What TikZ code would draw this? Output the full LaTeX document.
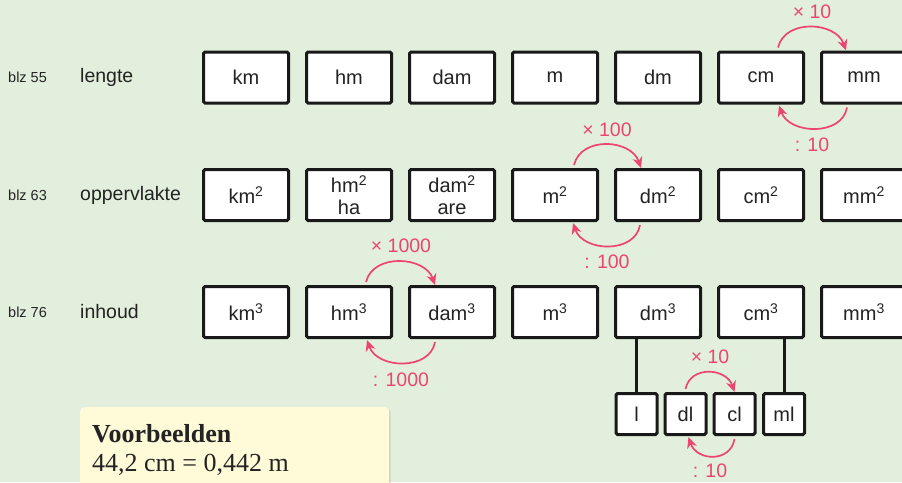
\documentclass[tikz,border=0pt]{standalone}
\usepackage{fontspec}
\setmainfont{Liberation Serif}
\newfontfamily\hv{Liberation Sans}
\usetikzlibrary{arrows.meta,calc,shadows}
\definecolor{bggreen}{RGB}{226,239,220}
\definecolor{pinkarr}{RGB}{236,70,112}
\definecolor{txtgrey}{RGB}{35,35,35}
\definecolor{noteyellow}{RGB}{255,251,216}
\tikzset{
  unitbox/.style={draw=black!90, line width=3pt, fill=white, rounded corners=1.5pt,
    minimum width=85pt, minimum height=51pt, inner sep=0pt, font=\hv\fontsize{20}{23}\selectfont,
    text=txtgrey, align=center},
  smallbox/.style={unitbox, minimum width=41pt, minimum height=41pt},
  rowlabel/.style={anchor=west, font=\hv\fontsize{19.5}{20}\selectfont, text=txtgrey, inner sep=0pt},
  pagelabel/.style={anchor=west, font=\hv\fontsize{14.5}{15}\selectfont, text=txtgrey, inner sep=0pt},
  convarrow/.style={draw=pinkarr, line width=1.7pt, -{Stealth[length=11pt,width=10pt]}},
  convlabel/.style={font=\hv\fontsize{19.5}{20}\selectfont, text=pinkarr, inner sep=0pt},
  stem/.style={draw=black!90, line width=3pt}
}
\newcommand{\sq}{\textsuperscript{2}}
\newcommand{\cu}{\textsuperscript{3}}
\begin{document}
\begin{tikzpicture}[x=1pt,y=-1pt]
\fill[bggreen] (0,0) rectangle (902,482);
\useasboundingbox (0,0) rectangle (902,482);

% row labels
\node[pagelabel] (p1) at (8,77.5) {blz 55};
\node[pagelabel] (p2) at (8,195) {blz 63};
\node[pagelabel] (p3) at (8,312) {blz 76};
\node[rowlabel] (r1) at (80,77.5) {lengte};
\node[rowlabel] (r2) at (80,195) {oppervlakte};
\node[rowlabel] (r3) at (80,312) {inhoud};

% row 1
\node[unitbox] (km)  at (246,77.5) {km};
\node[unitbox] (hm)  at (349,77.5) {hm};
\node[unitbox] (dam) at (452,77.5) {dam};
\node[unitbox] (m)   at (555,77.5) {m};
\node[unitbox] (dm)  at (658,77.5) {dm};
\node[unitbox] (cm)  at (761,77.5) {cm};
\node[unitbox] (mm)  at (864,77.5) {mm};

% row 2
\node[unitbox] (km2)  at (246,195) {km\sq};
\node[unitbox] (hm2)  at (349,195) {hm\sq\\[-1pt]ha};
\node[unitbox] (dam2) at (452,195) {dam\sq\\[-1pt]are};
\node[unitbox] (m2)   at (555,195) {m\sq};
\node[unitbox] (dm2)  at (658,195) {dm\sq};
\node[unitbox] (cm2)  at (761,195) {cm\sq};
\node[unitbox] (mm2)  at (864,195) {mm\sq};

% row 3
\node[unitbox] (km3)  at (246,312) {km\cu};
\node[unitbox] (hm3)  at (349,312) {hm\cu};
\node[unitbox] (dam3) at (452,312) {dam\cu};
\node[unitbox] (m3)   at (555,312) {m\cu};
\node[unitbox] (dm3)  at (658,312) {dm\cu};
\node[unitbox] (cm3)  at (761,312) {cm\cu};
\node[unitbox] (mm3)  at (864,312) {mm\cu};

% litres
\node[smallbox] (l)  at (636.5,414) {l};
\node[smallbox] (dl) at (685.5,414) {dl};
\node[smallbox] (cl) at (734.5,414) {cl};
\node[smallbox] (ml) at (784,414) {ml};
\draw[stem] (l.north) -- (l.north |- dm3.south);
\draw[stem] (ml.north) -- (ml.north |- cm3.south);

% cm <-> mm
\draw[convarrow] ([xshift=-27pt,yshift=3pt]cm.north east) .. controls +(7,-29) and +(-10,-29) .. ([xshift=26pt,yshift=0pt]mm.north west);
\draw[convarrow] ([xshift=27pt,yshift=-3pt]mm.south west) .. controls +(-5,29) and +(10,29) .. ([xshift=-26pt,yshift=-1pt]cm.south east);
\node[convlabel] (x10a) at (812,12) {\texttimes\ 10};
\node[convlabel] (d10a) at (812,145) {: 10};

% m2 <-> dm2
\draw[convarrow] ([xshift=-25pt,yshift=3pt]m2.north east) .. controls +(7,-29) and +(-10,-29) .. ([xshift=27pt,yshift=0pt]dm2.north west);
\draw[convarrow] ([xshift=26pt,yshift=-3pt]dm2.south west) .. controls +(-5,29) and +(10,29) .. ([xshift=-26pt,yshift=-1pt]m2.south east);
\node[convlabel] (x100) at (607,130) {\texttimes\ 100};
\node[convlabel] (d100) at (607,262) {: 100};

% hm3 <-> dam3
\draw[convarrow] ([xshift=-27pt,yshift=3pt]hm3.north east) .. controls +(7,-29) and +(-10,-29) .. ([xshift=27pt,yshift=0pt]dam3.north west);
\draw[convarrow] ([xshift=27pt,yshift=-3pt]dam3.south west) .. controls +(-5,29) and +(10,29) .. ([xshift=-26pt,yshift=-1pt]hm3.south east);
\node[convlabel] (x1000) at (401,246) {\texttimes\ 1000};
\node[convlabel] (d1000) at (401,380) {: 1000};

% dl <-> cl
\draw[convarrow] ([xshift=-22pt,yshift=3pt]dl.north east) .. controls +(5,-24) and +(-8,-24) .. ([xshift=22pt,yshift=0pt]cl.north west);
\draw[convarrow] ([xshift=22pt,yshift=-3pt]cl.south west) .. controls +(-4,24) and +(8,24) .. ([xshift=-19pt,yshift=-1pt]dl.south east);
\node[convlabel] (x10b) at (710,357) {\texttimes\ 10};
\node[convlabel] (d10b) at (710,471) {: 10};

% examples box
\node[draw=none, fill=noteyellow, rounded corners=4pt, minimum width=309pt, minimum height=100pt,
  anchor=north west, inner sep=0pt, drop shadow={shadow xshift=1.5pt, shadow yshift=-1.5pt, opacity=0.25}] (note) at (80,407) {};
\node[anchor=west, inner sep=0pt, font=\bfseries\fontsize{26}{26}\selectfont, text=txtgrey] (vb) at (92,434) {Voorbeelden};
\node[anchor=west, inner sep=0pt, font=\fontsize{26}{26}\selectfont, text=txtgrey] (ex) at (92,465) {44,2 cm = 0,442 m};
\end{tikzpicture}
\end{document}
